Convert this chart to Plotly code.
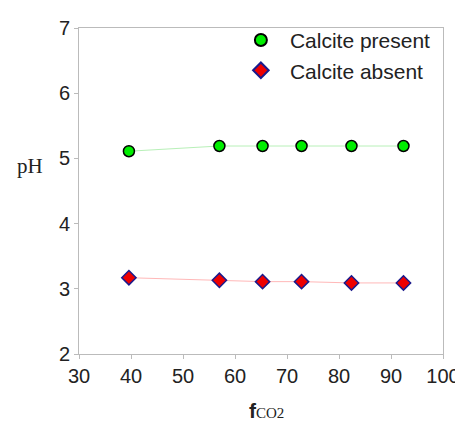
import plotly.graph_objects as go

fco2 = [39.6, 57.0, 65.3, 72.8, 82.4, 92.4]
ph_present = [5.11, 5.19, 5.19, 5.19, 5.19, 5.19]
ph_absent = [3.17, 3.13, 3.11, 3.11, 3.09, 3.09]
x_ticks = [30, 40, 50, 60, 70, 80, 90, 100]
y_ticks = [2, 3, 4, 5, 6, 7]

fig = go.Figure()
# connecting lines (not in legend)
fig.add_trace(go.Scatter(x=fco2, y=ph_present, mode="lines", showlegend=False,
                         line=dict(color="#b8f0b8", width=1), hoverinfo="skip"))
fig.add_trace(go.Scatter(x=fco2, y=ph_absent, mode="lines", showlegend=False,
                         line=dict(color="#ffb8b8", width=1), hoverinfo="skip"))
# markers
fig.add_trace(go.Scatter(
    x=fco2, y=ph_present, mode="markers", name="Calcite present",
    marker=dict(symbol="circle", size=11, color="#00ee00", line=dict(color="black", width=1.5)),
))
fig.add_trace(go.Scatter(
    x=fco2, y=ph_absent, mode="markers", name="Calcite absent",
    marker=dict(symbol="diamond", size=11, color="#ee0000", line=dict(color="#1a1a8c", width=1.5)),
))

axis_common = dict(
    showline=True, linecolor="#bbbbbb", linewidth=1, mirror=True, automargin=False,
    ticks="outside", tickcolor="#bbbbbb", ticklen=4, showgrid=False, zeroline=False,
    tickfont=dict(family="Liberation Sans, Arial", size=20, color="#222222"),
)
fig.update_xaxes(range=[30, 100], tickvals=x_ticks, **axis_common)
fig.update_yaxes(range=[2, 7], tickvals=y_ticks, **axis_common)
fig.add_annotation(text="<b>f</b><span style='font-family:Liberation Serif;font-size:15px'>CO2</span>",
                   xref="paper", yref="paper", x=0.514, y=-0.212,
                   xanchor="center", yanchor="bottom", showarrow=False, borderpad=0,
                   font=dict(family="Liberation Sans, Arial", size=21, color="#222222"))
fig.add_annotation(text="pH", xref="paper", yref="paper", x=-0.135, y=0.578,
                   xanchor="center", yanchor="middle", showarrow=False,
                   font=dict(family="Liberation Serif, Times New Roman", size=21, color="#222222"))
fig.update_layout(
    width=455, height=418,
    margin=dict(l=71, r=20, t=14, b=72),
    paper_bgcolor="white", plot_bgcolor="white",
    showlegend=True,
    legend=dict(x=0.42, y=1.025, xanchor="left", yanchor="top",
                font=dict(family="Liberation Sans, Arial", size=21, color="#222222"),
                bgcolor="rgba(0,0,0,0)", itemsizing="constant", itemwidth=48, tracegroupgap=0),
)
fig.write_html("out.html")
